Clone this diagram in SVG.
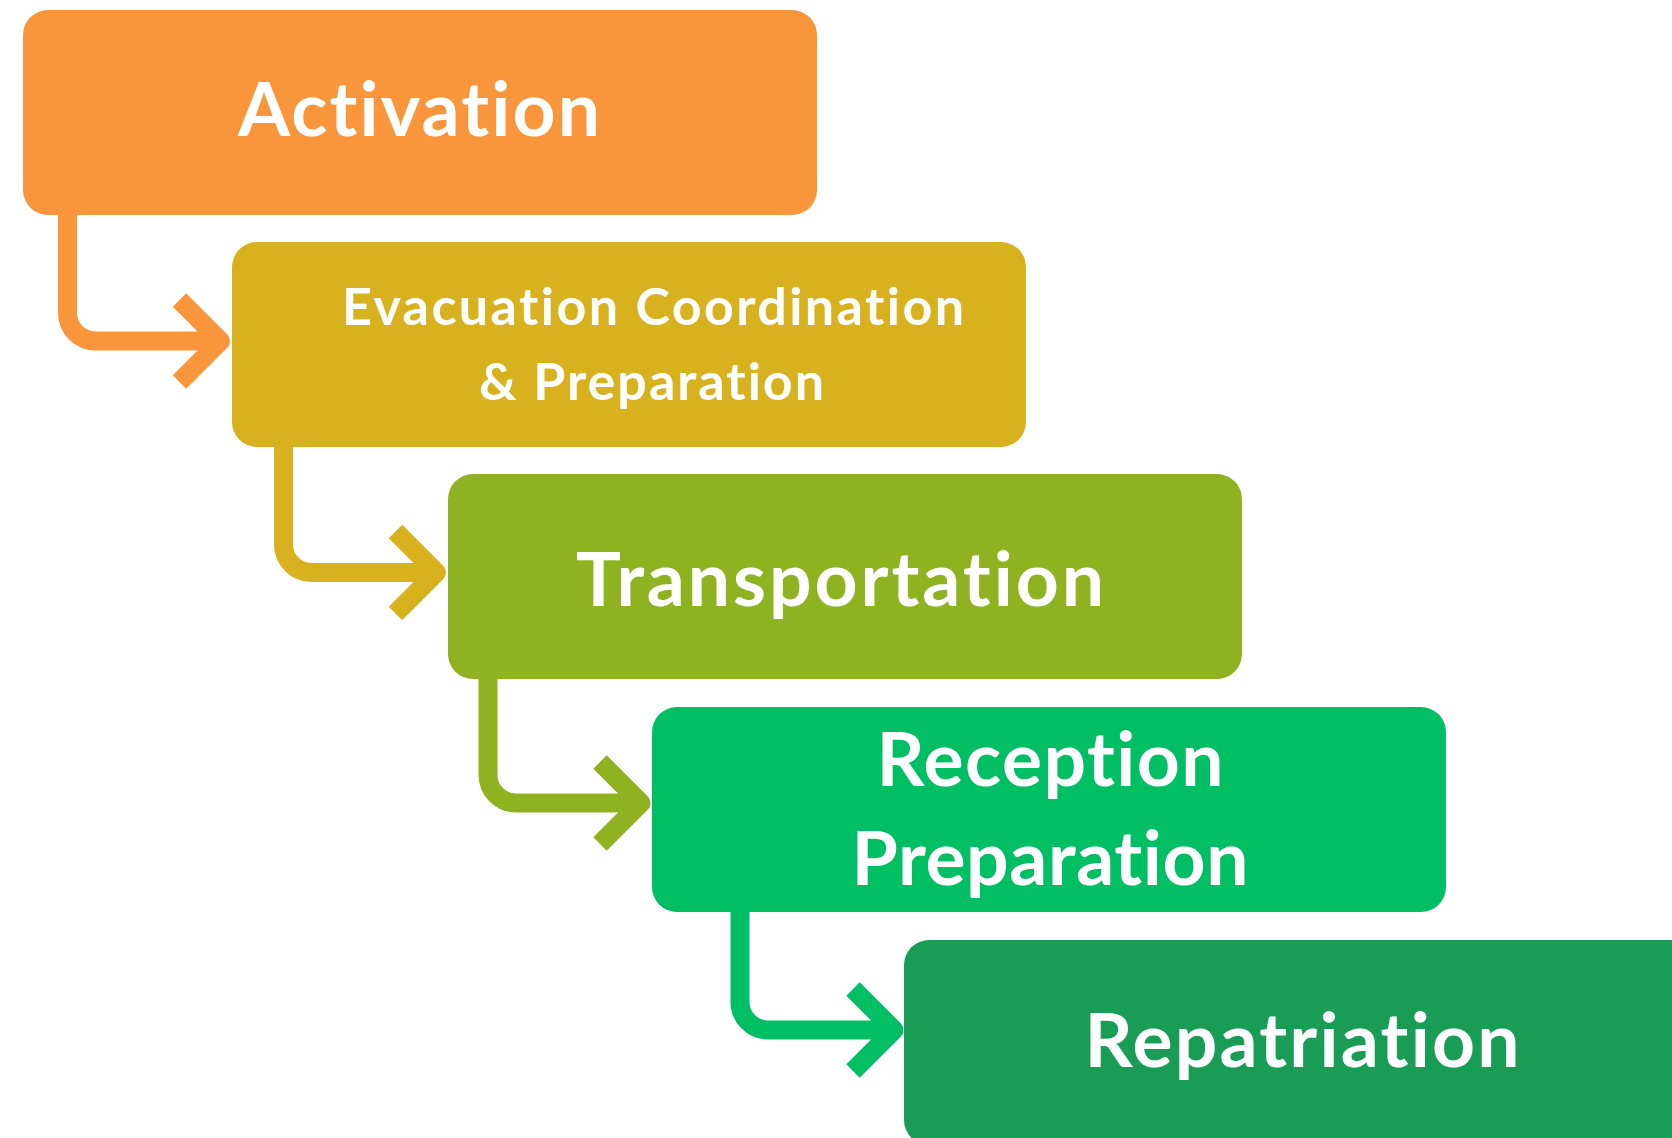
<svg xmlns="http://www.w3.org/2000/svg" width="1672" height="1138" viewBox="0 0 1672 1138">
<style>
.lbl{font-family:Lato,"Open Sans","Liberation Sans",sans-serif;font-weight:700;fill:#ffffff;text-anchor:middle;font-variant-ligatures:none;font-feature-settings:"liga" 0,"clig" 0}
.big{font-size:75px}
.mid{font-size:52px}
.c{fill:none;stroke-width:19}
.chev{fill:none;stroke-width:19;stroke-linejoin:round;stroke-linecap:butt}
</style>
<rect width="1672" height="1138" fill="#ffffff"/>
<g id="connectors">
<path class="c" stroke="#F9953B" d="M67.5 213 V313 A28 28 0 0 0 95.5 341 H220"/>
<polyline class="chev" stroke="#F9953B" points="179.5,300 220.5,341 179.5,382"/>
<path class="c" stroke="#D7B21E" d="M283.5 445 V544.5 A28 28 0 0 0 311.5 572.5 H436"/>
<polyline class="chev" stroke="#D7B21E" points="395.5,531.5 436.5,572.5 395.5,613.5"/>
<path class="c" stroke="#8FB221" d="M488 677 V775 A28 28 0 0 0 516 803 H641"/>
<polyline class="chev" stroke="#8FB221" points="600,762 641,803 600,844"/>
<path class="c" stroke="#00BE63" d="M740 910 V1002 A28 28 0 0 0 768 1030 H894"/>
<polyline class="chev" stroke="#00BE63" points="853,989 894,1030 853,1071"/>
</g>
<g id="node-activation">
<rect x="23" y="10" width="794" height="205" rx="25" fill="#F9953B"/>
<text class="lbl big" x="419" y="135.5" textLength="362" lengthAdjust="spacing">Activation</text>
</g>
<g id="node-evacuation">
<rect x="232" y="242" width="794" height="205" rx="25" fill="#D7B21E"/>
<text class="lbl mid" x="653" y="325" textLength="622" lengthAdjust="spacing">Evacuation Coordination</text>
<text class="lbl mid" x="651.5" y="400" textLength="345" lengthAdjust="spacing">&amp; Preparation</text>
</g>
<g id="node-transportation">
<rect x="448" y="474" width="794" height="205" rx="25" fill="#8FB221"/>
<text class="lbl big" x="840" y="605.5" textLength="528" lengthAdjust="spacing">Transportation</text>
</g>
<g id="node-reception">
<rect x="652" y="707" width="794" height="205" rx="25" fill="#00BE63"/>
<text class="lbl big" x="1050" y="786" textLength="347" lengthAdjust="spacing">Reception</text>
<text class="lbl big" x="1050" y="885" textLength="397" lengthAdjust="spacing">Preparation</text>
</g>
<g id="node-repatriation">
<rect x="904" y="940" width="794" height="205" rx="25" fill="#199D56"/>
<text class="lbl big" x="1302" y="1067" textLength="435" lengthAdjust="spacing">Repatriation</text>
</g>
</svg>
